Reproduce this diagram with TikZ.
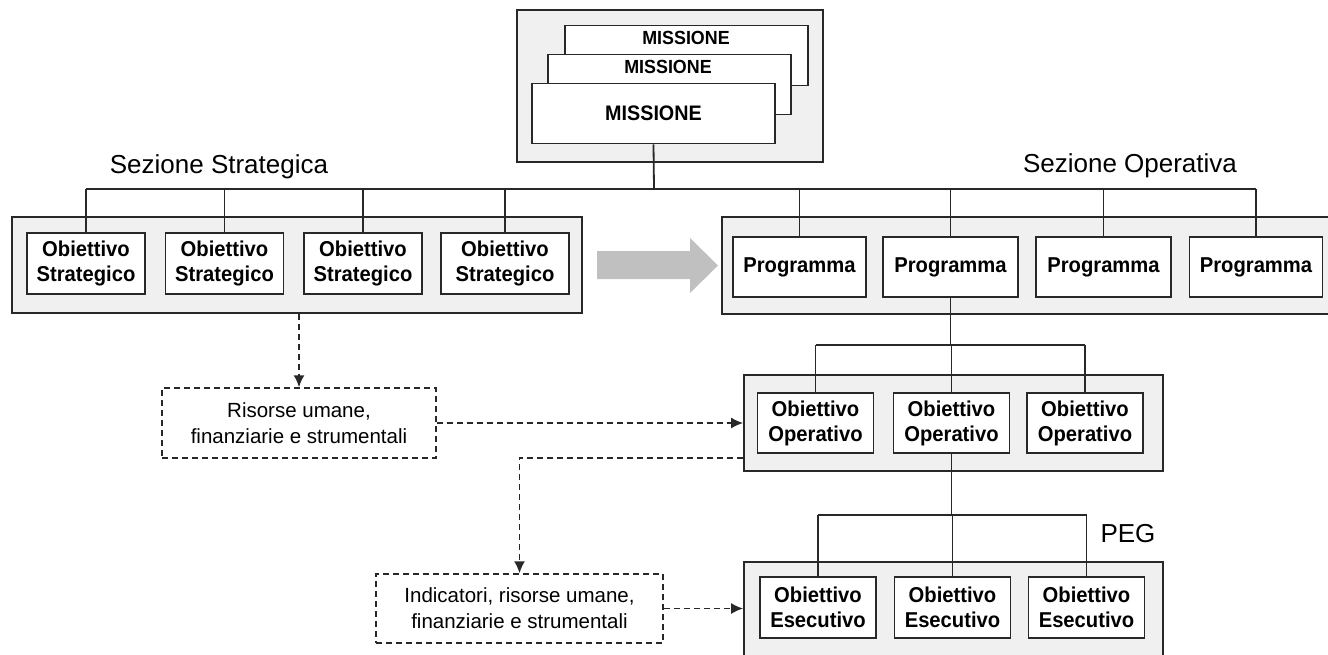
\documentclass[tikz,border=0pt]{standalone}
\usepackage{fontspec}
\setmainfont{Liberation Sans}
\newfontfamily\boxfont[FakeStretch=0.94]{Liberation Sans}
\usetikzlibrary{arrows.meta,positioning}
\definecolor{linegray}{RGB}{40,40,40}
\definecolor{panelgray}{RGB}{240,240,240}
\definecolor{arrowgray}{RGB}{192,192,192}

\begin{document}
\begin{tikzpicture}[x=1pt,y=-1pt,
    panel/.style={draw=linegray,fill=panelgray,line width=1.8pt,inner sep=0pt},
    goal/.style={draw=linegray,fill=white,line width=1.8pt,inner sep=0pt,align=center,
      minimum height=61pt,font=\boxfont\bfseries\fontsize{21.5}{25}\selectfont},
    mission/.style={draw=linegray,fill=white,line width=1.8pt,inner sep=0pt,
      minimum width=243pt,minimum height=60pt},
    mtext/.style={inner sep=0pt,font=\boxfont\bfseries\fontsize{19}{22}\selectfont},
    title/.style={inner sep=0pt,anchor=base,font=\fontsize{26}{30}\selectfont},
    note/.style={draw=linegray,fill=white,line width=1.5pt,dash pattern=on 6pt off 4pt,
      inner sep=0pt,align=center,font=\fontsize{20.5}{26}\selectfont},
    link/.style={draw=linegray,line width=1.8pt},
    flow/.style={draw=linegray,line width=1.6pt,dash pattern=on 6pt off 4pt,
      -{Latex[length=12pt,width=11pt]}}]
  \clip (0,0) rectangle (1328,654);

  % missione
  \node[panel,minimum width=306pt,minimum height=152pt] (mpanel) at (670,86) {};
  \node[mission] (m1) at (686.5,55.5) {};
  \node[mtext] at (686,38) {MISSIONE};
  \node[mission] (m2) at (669.5,84.5) {};
  \node[mtext] at (668,67) {MISSIONE};
  \node[mission,font=\boxfont\bfseries\fontsize{21}{24}\selectfont] (m3) at (653.5,113.5) {MISSIONE};

  % sezione strategica
  \node[title] (tstrat) at (219,173) {Sezione Strategica};
  \node[panel,minimum width=570pt,minimum height=96pt] (spanel) at (297,265) {};
  \node[goal,minimum width=118pt] (s1) at (86,263.5) {Obiettivo\\Strategico};
  \node[goal,minimum width=118pt] (s2) at (224.5,263.5) {Obiettivo\\Strategico};
  \node[goal,minimum width=118pt] (s3) at (363,263.5) {Obiettivo\\Strategico};
  \node[goal,minimum width=128pt] (s4) at (505,263.5) {Obiettivo\\Strategico};

  % sezione operativa
  \node[title] (toper) at (1130,172) {Sezione Operativa};
  \node[panel,minimum width=618pt,minimum height=97pt] (ppanel) at (1031,265.5) {};
  \node[goal,minimum width=133pt,minimum height=60pt] (p1) at (799.5,267) {Programma};
  \node[goal,minimum width=135pt,minimum height=60pt] (p2) at (950.5,267) {Programma};
  \node[goal,minimum width=135pt,minimum height=60pt] (p3) at (1103.5,267) {Programma};
  \node[goal,minimum width=133pt,minimum height=60pt] (p4) at (1256,267) {Programma};

  \fill[arrowgray] (597,251) -- (690,251) -- (690,238) -- (718,265.5)
    -- (690,293) -- (690,279) -- (597,279) -- cycle;

  % obiettivi operativi
  \node[panel,minimum width=419pt,minimum height=96pt] (opanel) at (953.5,423) {};
  \node[goal,minimum width=116pt,minimum height=60pt] (o1) at (815.5,423) {Obiettivo\\Operativo};
  \node[goal,minimum width=116pt,minimum height=60pt] (o2) at (951.5,423) {Obiettivo\\Operativo};
  \node[goal,minimum width=116pt,minimum height=60pt] (o3) at (1085,423) {Obiettivo\\Operativo};

  % PEG
  \node[title] (tpeg) at (1128,542) {PEG};
  \node[panel,minimum width=419pt,minimum height=98pt] (epanel) at (953.5,611) {};
  \node[goal,minimum width=116pt] (e1) at (818,607.5) {Obiettivo\\Esecutivo};
  \node[goal,minimum width=116pt] (e2) at (952.5,607.5) {Obiettivo\\Esecutivo};
  \node[goal,minimum width=116pt] (e3) at (1086.5,607.5) {Obiettivo\\Esecutivo};

  % risorse
  \node[note,minimum width=274pt,minimum height=70pt] (res) at (299,423)
    {Risorse umane,\\finanziarie e strumentali};
  \node[note,minimum width=287pt,minimum height=69pt] (ind) at (519.5,608.5)
    {Indicatori, risorse umane,\\finanziarie e strumentali};

  % tree lines
  \coordinate (busA) at (654,189);
  \coordinate (busB) at (950.5,345);
  \coordinate (busC) at (951.5,515);
  \draw[link] (m3.south) -- (busA);
  \draw[link] (busA -| s1) -- (busA -| p4);
  \foreach \n in {s1,s2,s3,s4,p1,p2,p3,p4}
    \draw[link] (busA -| \n) -- (\n.north);
  \draw[link] (p2.south) -- (busB);
  \draw[link] (busB -| o1) -- (busB -| o3);
  \foreach \n in {o1,o2,o3}
    \draw[link] (busB -| \n) -- (\n.north);
  \draw[link] (o2.south) -- (busC);
  \draw[link] (busC -| e1) -- (busC -| e3);
  \foreach \n in {e1,e2,e3}
    \draw[link] (busC -| \n) -- (\n.north);

  % dashed arrows
  \draw[flow] (res.north |- spanel.south) -- (res.north);
  \draw[flow] (res.east) -- (opanel.west);
  \draw[flow] ([yshift=-35pt]opanel.west) -| (ind.north);
  \draw[flow] (ind.east) -- (epanel.west |- ind.east);
\end{tikzpicture}
\end{document}
